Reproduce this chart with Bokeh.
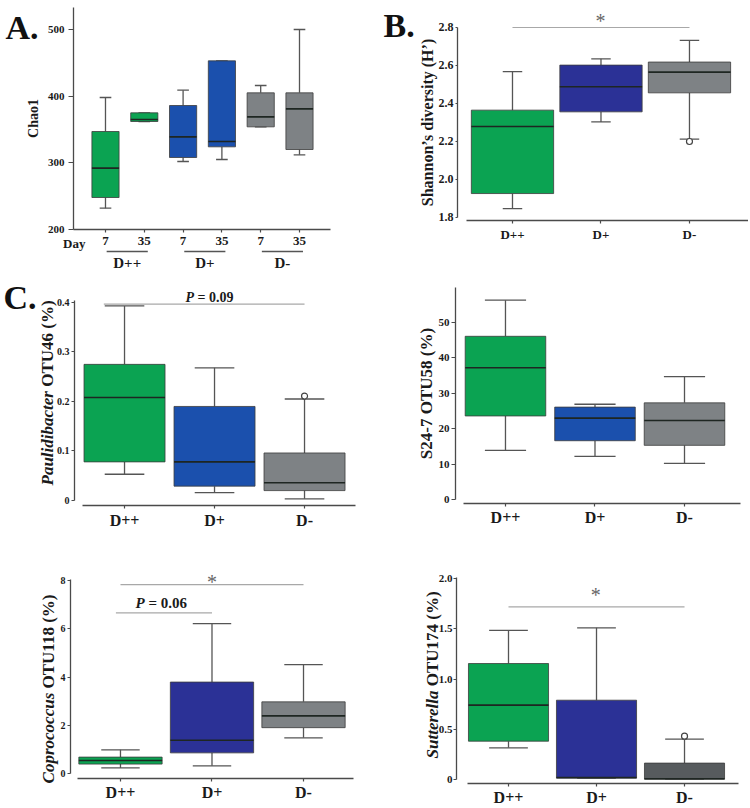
import numpy as np
from bokeh.plotting import figure
from bokeh.models import ColumnDataSource, Label, FixedTicker, Range1d
from bokeh.layouts import column, row
from bokeh.embed import file_html
from bokeh.resources import INLINE

FONT = "Liberation Serif"

# ---------------- data ----------------
groups = ["D++", "D+", "D-"]

# A. Chao1 (day 7 / day 35 within each group)
a_days = ["7", "35", "7", "35", "7", "35"]
a_low = [232, 362, 302, 305, 354, 312]
a_q1 = [248, 362, 308, 324, 354, 320]
a_med = [292, 365, 339, 332, 369, 381]
a_q3 = [347, 375, 386, 453, 405, 405]
a_high = [398, 375, 409, 453, 416, 500]
a_yticks = [200, 300, 400, 500]

# B. Shannon's diversity
b_low = [1.847, 2.303, 2.212]
b_q1 = [1.926, 2.356, 2.456]
b_med = [2.279, 2.488, 2.565]
b_q3 = [2.365, 2.602, 2.618]
b_high = [2.568, 2.635, 2.732]
b_out_group = [3]
b_out_val = [2.200]
b_yticks = [1.8, 2.0, 2.2, 2.4, 2.6, 2.8]
b_ylabels = ["1.8", "2.0", "2.2", "2.4", "2.6", "2.8"]

# C1. Paulidibacter OTU46 (%)
c1_low = [0.053, 0.016, 0.0034]
c1_q1 = [0.078, 0.029, 0.020]
c1_med = [0.208, 0.078, 0.036]
c1_q3 = [0.275, 0.190, 0.096]
c1_high = [0.393, 0.268, 0.205]
c1_out_group = [3]
c1_out_val = [0.211]
c1_yticks = [0, 0.1, 0.2, 0.3, 0.4]
c1_ylabels = ["0", "0.1", "0.2", "0.3", "0.4"]

# C2. S24-7 OTU58 (%)
c2_low = [13.9, 12.2, 10.2]
c2_q1 = [23.6, 16.6, 15.3]
c2_med = [37.2, 23.0, 22.3]
c2_q3 = [46.1, 26.1, 27.3]
c2_high = [56.3, 26.9, 34.7]
c2_yticks = [0, 10, 20, 30, 40, 50]

# C3. Coprococcus OTU118 (%)
c3_low = [0.23, 0.32, 1.48]
c3_q1 = [0.39, 0.855, 1.90]
c3_med = [0.54, 1.38, 2.39]
c3_q3 = [0.68, 3.79, 2.97]
c3_high = [0.98, 6.21, 4.51]
c3_yticks = [0, 2, 4, 6, 8]

# C4. Sutterella OTU174 (%)
c4_low = [0.315, 0.013, 0.003]
c4_q1 = [0.381, 0.013, 0.003]
c4_med = [0.740, 0.020, 0.007]
c4_q3 = [1.154, 0.789, 0.163]
c4_high = [1.483, 1.509, 0.401]
c4_out_group = [3]
c4_out_val = [0.431]
c4_yticks = [0, 0.5, 1.0, 1.5, 2.0]
c4_ylabels = ["0", "0.5", "1.0", "1.5", "2.0"]

# ---------------- styles ----------------
GREEN = "#0ba352"
BLUE = "#1b50ad"
NAVY = "#2b3196"
GRAY = "#7e8285"
DGRAY = "#575b5e"
AXIS = "#4a4a4a"
WHISK = "#555555"
EDGE = "#3c3c3c"
MED = "#1e2622"
SIG = "#a8a8a8"

# em widths of the italic genus names (Times bold italic metrics)
ITALIC_EM = {"Paulidibacter": 5.556, "Coprococcus": 5.333, "Sutterella": 4.0}


def make_fig(w, h, xr, yr):
    p = figure(width=w, height=h, x_range=Range1d(*xr), y_range=Range1d(*yr),
               output_backend="svg", toolbar_location=None,
               min_border_left=0, min_border_right=0,
               min_border_top=0, min_border_bottom=0)
    p.grid.visible = False
    p.outline_line_color = None
    p.background_fill_color = "white"
    p.border_fill_color = "white"
    return p


def style_axes(p, xloc, xbounds, xticks, xlabels, xfs, yloc, ybounds, yticks, ylabels, yfs,
               ytick_out=3, ystand=2, xtick_out=3, xstand=3):
    for ax in (p.xaxis[0], p.yaxis[0]):
        ax.axis_line_color = AXIS
        ax.axis_line_width = 1.3
        ax.major_tick_line_color = AXIS
        ax.major_tick_line_width = 1.2
        ax.major_tick_in = 0
        ax.minor_tick_line_color = None
        ax.major_label_text_font = FONT
        ax.major_label_text_font_style = "bold"
        ax.major_label_text_color = "#1a1a1a"
        ax.axis_label_text_font = FONT
        ax.axis_label_text_font_style = "bold"
        ax.axis_label_text_color = "#1a1a1a"
    xa, ya = p.xaxis[0], p.yaxis[0]
    xa.fixed_location = xloc
    xa.bounds = xbounds
    xa.ticker = FixedTicker(ticks=xticks)
    xa.major_label_overrides = dict(zip(xticks, xlabels))
    xa.major_label_text_font_size = f"{xfs}px"
    xa.major_tick_out = xtick_out
    xa.major_label_standoff = xstand
    ya.fixed_location = yloc
    ya.bounds = ybounds
    ya.ticker = FixedTicker(ticks=yticks)
    ya.major_label_overrides = dict(zip(yticks, ylabels))
    ya.major_label_text_font_size = f"{yfs}px"
    ya.major_tick_out = ytick_out
    ya.major_label_standoff = ystand


def boxes(p, low, q1, med, q3, high, colors, bw, cw):
    xs = list(range(1, len(low) + 1))
    src = ColumnDataSource(dict(
        x=xs, low=low, q1=q1, med=med, q3=q3, high=high, color=colors,
        bl=[x - bw / 2 for x in xs], br=[x + bw / 2 for x in xs],
        cl=[x - cw / 2 for x in xs], cr=[x + cw / 2 for x in xs]))
    for y0, y1 in (("q3", "high"), ("low", "q1")):
        p.segment(x0="x", y0=y0, x1="x", y1=y1, source=src, line_color=WHISK, line_width=1.3)
    for yy in ("high", "low"):
        p.segment(x0="cl", y0=yy, x1="cr", y1=yy, source=src, line_color=WHISK, line_width=1.3)
    p.quad(left="bl", right="br", bottom="q1", top="q3", source=src,
           fill_color="color", line_color=EDGE, line_width=1, line_alpha=0.8)
    p.segment(x0="bl", y0="med", x1="br", y1="med", source=src, line_color=MED, line_width=1.6)


def outliers(p, gx, vals):
    p.scatter(x=gx, y=vals, marker="circle", size=6, fill_color="white",
              line_color="#444444", line_width=1.2)


def txt(p, x, y, text, size, style="bold", align="left", baseline="middle",
        color="#1a1a1a", angle=0.0):
    p.add_layout(Label(x=x, y=y, text=text, text_font=FONT, text_font_size=f"{size}px",
                       text_font_style=style, text_align=align, text_baseline=baseline,
                       text_color=color, angle=angle))


def hline(p, x0, x1, y, color=SIG, width=1.2):
    p.segment(x0=[x0], y0=[y], x1=[x1], y1=[y], line_color=color, line_width=width)


def star(p, x, y):
    txt(p, x, y, "*", 20, style="normal", align="center", baseline="alphabetic",
        color="#666666")


def p_value(p, x_left, y, rest, size, px_per_x):
    txt(p, x_left, y, "P", size, style="bold italic")
    off = (0.611 + 0.25) * size / px_per_x
    txt(p, x_left + off, y, rest, size)


def rot_label(p, x, y0, italic, rest, size, px_per_y):
    txt(p, x, y0, italic, size, style="bold italic", angle=np.pi / 2)
    off = (ITALIC_EM[italic] + 0.25) * size / px_per_y
    txt(p, x, y0 + off, rest, size, angle=np.pi / 2)


def panel_letter(p, x, y, letter):
    txt(p, x, y, letter, 34, baseline="alphabetic", color="#111111")


# ---------------- Panel A ----------------
pA = make_fig(370, 270, (-1.706, 7.830), (138.5, 543.5))
boxes(pA, a_low, a_q1, a_med, a_q3, a_high,
      [GREEN, GREEN, BLUE, BLUE, GRAY, GRAY], 0.70, 0.30)
style_axes(pA, 200, (0.175, 6.80), list(range(1, 7)), a_days, 13,
           0.175, (200, 533), a_yticks, [str(v) for v in a_yticks], 11,
           ytick_out=5, ystand=4, xtick_out=3, xstand=4)
pA.yaxis.axis_label = "Chao1"
pA.yaxis.axis_label_text_font_size = "14px"
pA.yaxis.axis_label_standoff = 4
txt(pA, 0.485, 179, "Day", 13, align="right")
for i, g in enumerate(groups):
    c = 2 * i + 1.5 + 0.06
    hline(pA, c - 0.53, c + 0.53, 167, color="#555555", width=1.3)
    txt(pA, c, 150.5, g, 15, align="center")
panel_letter(pA, -1.577, 503, "A.")

# ---------------- Panel B ----------------
pB = make_fig(378, 270, (-0.6045, 3.667), (1.521, 2.942))
boxes(pB, b_low, b_q1, b_med, b_q3, b_high, [GREEN, NAVY, GRAY], 0.93, 0.22)
outliers(pB, b_out_group, b_out_val)
style_axes(pB, 1.784, (0.48, 3.67), [1, 2, 3], groups, 13,
           0.3785, (1.8, 2.8), b_yticks, b_ylabels, 12,
           ytick_out=2, ystand=2, xtick_out=3, xstand=3)
pB.yaxis.axis_label = "Shannon\u2019s diversity (H\u2019)"
pB.yaxis.axis_label_text_font_size = "16px"
pB.yaxis.axis_label_standoff = 0
hline(pB, 1, 3, 2.8)
star(pB, 1.994, 2.832)
panel_letter(pB, -0.458, 2.81, "B.")

# ---------------- Panel C1 ----------------
pC1 = make_fig(370, 280, (-0.378, 3.733), (-0.101, 0.4646))
boxes(pC1, c1_low, c1_q1, c1_med, c1_q3, c1_high, [GREEN, BLUE, GRAY], 0.90, 0.44)
outliers(pC1, c1_out_group, c1_out_val)
style_axes(pC1, -0.0101, (0.533, 3.567), [1, 2, 3], groups, 16,
           0.444, (0, 0.405), c1_yticks, c1_ylabels, 10)
hline(pC1, 0.77, 3.0, 0.3966)
p_value(pC1, 1.678, 0.410, "= 0.09", 14, 90)
rot_label(pC1, 0.144, 0.0303, "Paulidibacter", "OTU46 (%)", 17, 495)
panel_letter(pC1, -0.344, 0.410, "C.")

# ---------------- Panel C2 ----------------
pC2 = make_fig(378, 280, (-0.508, 3.715), (-14.41, 64.69))
boxes(pC2, c2_low, c2_q1, c2_med, c2_q3, c2_high, [GREEN, BLUE, GRAY], 0.90, 0.46)
style_axes(pC2, -1.13, (0.531, 3.626), [1, 2, 3], groups, 16,
           0.441, (0, 60), c2_yticks, [str(v) for v in c2_yticks], 11,
           ytick_out=4, ystand=2)
pC2.yaxis.axis_label = "S24-7 OTU58 (%)"
pC2.yaxis.axis_label_text_font_size = "17px"
pC2.yaxis.axis_label_standoff = 0

# ---------------- Panel C3 ----------------
pC3 = make_fig(370, 256, (-0.311, 3.732), (-1.368, 9.244))
boxes(pC3, c3_low, c3_q1, c3_med, c3_q3, c3_high, [GREEN, NAVY, GRAY], 0.91, 0.42)
style_axes(pC3, -0.207, (0.53, 3.546), [1, 2, 3], groups, 16,
           0.454, (0, 8.05), c3_yticks, [str(v) for v in c3_yticks], 10)
hline(pC3, 1, 3, 7.83)
star(pC3, 2.0, 7.93)
hline(pC3, 0.95, 2.0, 6.66)
p_value(pC3, 1.164, 7.05, "= 0.06", 15, 91.5)
rot_label(pC3, 0.213, -0.41, "Coprococcus", "OTU118 (%)", 17, 24.125)

# ---------------- Panel C4 ----------------
pC4 = make_fig(378, 256, (-0.568, 3.727), (-0.269, 2.279))
boxes(pC4, c4_low, c4_q1, c4_med, c4_q3, c4_high, [GREEN, NAVY, DGRAY], 0.91, 0.44)
outliers(pC4, c4_out_group, c4_out_val)
style_axes(pC4, -0.0398, (0.534, 3.61), [1, 2, 3], groups, 16,
           0.409, (0, 2.01), c4_yticks, c4_ylabels, 11,
           ytick_out=3, ystand=1)
hline(pC4, 1, 3, 1.718)
star(pC4, 1.99, 1.833)
rot_label(pC4, 0.136, 0.209, "Sutterella", "OTU174 (%)", 17, 100.5)

layout = column(row(pA, pB), row(pC1, pC2), row(pC3, pC4))
open("out.html", "w").write(file_html(layout, INLINE))
